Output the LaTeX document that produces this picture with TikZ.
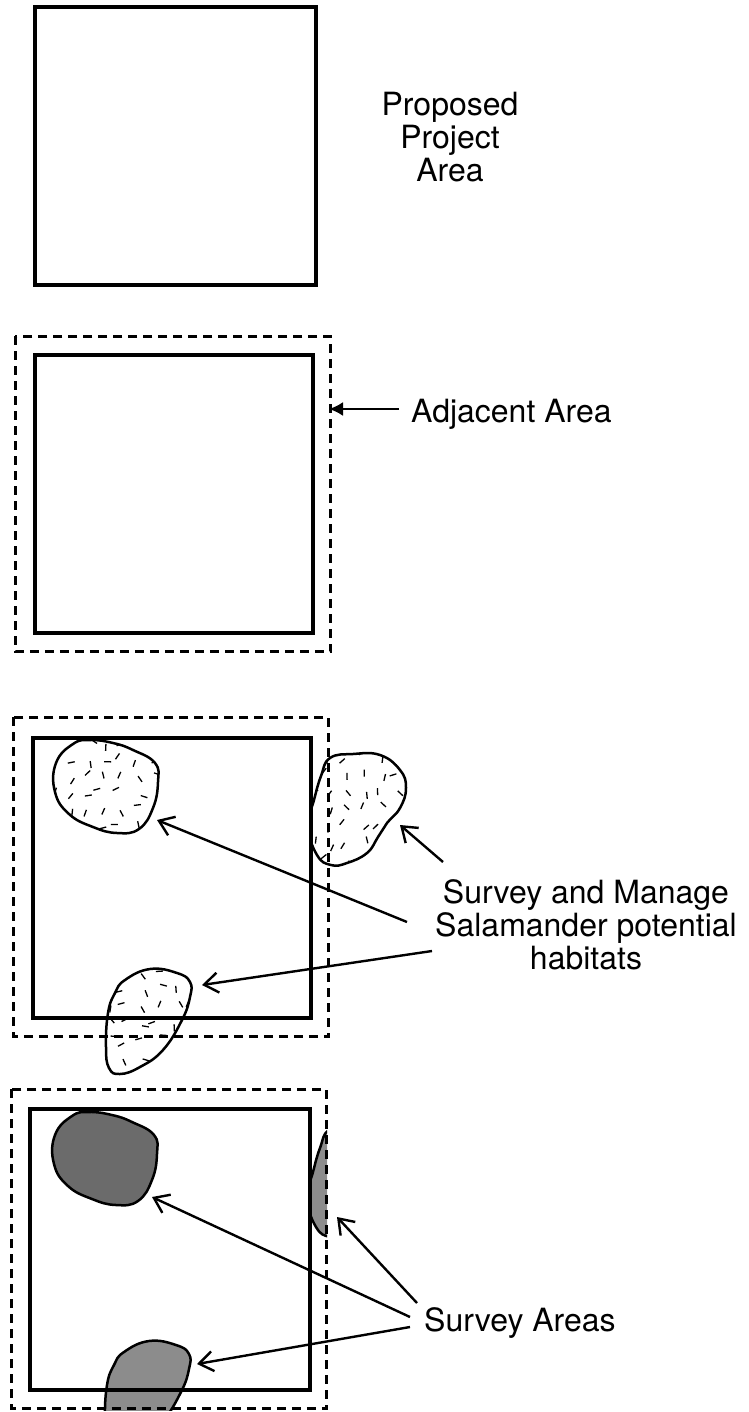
\documentclass[tikz,border=0pt]{standalone}
\usepackage{fontspec}
\setmainfont{TeX Gyre Heros}
\usetikzlibrary{arrows.meta,positioning}

% habitat outlines, measured from the top left corner of a project square
\newcommand{\blobNW}{plot[smooth cycle,tension=0.75] coordinates {(59,4) (82,7) (102,14) (124,27) (127,46) (122,72) (108,93) (86,97) (62,91) (38,78) (24,56) (25,27) (42,8)}}
\newcommand{\blobE}{plot[smooth cycle,tension=0.75] coordinates {(299,22) (322,18) (349,19) (369,34) (375,52) (369,72) (356,87) (347,101) (336,117) (316,127) (300,129) (286,119) (277,90) (283,64) (290,40)}}
\newcommand{\blobS}{plot[smooth cycle,tension=0.75] coordinates {(94,244) (119,233) (146,237) (159,246) (159,261) (151,284) (132,314) (109,331) (89,338) (78,332) (75,311) (77,277) (84,257)}}

% short random strokes on a loose grid
\newcommand{\speckles}[4]{%
  \foreach \i in {0,...,#2}{\foreach \j in {0,...,#4}{
    \pgfmathsetmacro{\sx}{#1+17*\i+9*rnd}
    \pgfmathsetmacro{\sy}{#3+17*\j+9*rnd}
    \pgfmathsetmacro{\sa}{180*rnd}
    \draw[speck] (\sx,\sy) -- ++(\sa:7);}}}

\begin{document}
\begin{tikzpicture}[x=1pt, y=-1pt, font=\fontsize{32}{33}\selectfont]
\tikzstyle{project}=[line width=3.8pt]
\tikzstyle{adjacent}=[line width=2.8pt, dash pattern=on 9pt off 6pt]
\tikzstyle{habitat}=[draw, line width=2.5pt]
\tikzstyle{speck}=[line width=1.3pt]
\tikzstyle{pointer}=[-{Straight Barb[length=14pt,width=20pt]}, line width=2.4pt]
\tikzstyle{areatext}=[align=center, inner sep=0pt]
\pgfmathsetseed{3}
\useasboundingbox (0,0) rectangle (748,1412);

% 1: project area
\draw[project] (34.75,6.75) rectangle (316.25,285.25);
\node[areatext, anchor=north] (proposed) at (450,92) {Proposed\\Project\\Area};

% 2: with adjacent area
\draw[project] (34.75,354.75) rectangle (313.25,633.25);
\draw[adjacent] (15.25,336.25) rectangle (330.75,651.75);
\coordinate (adjHead) at (329,409);
\coordinate (adjTail) at (399,409);
\node[areatext, anchor=base west] (adjacent) at (411,422) {Adjacent Area};
\draw[-{Latex[length=14pt,width=14pt]}, line width=2.2pt] (adjTail) -- (adjHead);

% 3: potential habitats
\begin{scope}[shift={(31,736)}]
  \begin{scope}
    \clip \blobNW;
    \speckles{18}{7}{0}{6}
  \end{scope}
  \draw[habitat] \blobNW;
  \begin{scope}
    \clip \blobS;
    \speckles{72}{5}{230}{6}
  \end{scope}
  \draw[habitat] \blobS;
  \begin{scope}
    \clip (280.25,0) rectangle (420,160);
    \begin{scope}
      \clip \blobE;
      \speckles{278}{6}{15}{7}
    \end{scope}
    \draw[habitat] \blobE;
  \end{scope}
\end{scope}
\draw[project] (32.75,737.75) rectangle (311.25,1018.25);
\draw[adjacent] (13.25,717.25) rectangle (328.75,1036.75);
\node[areatext, anchor=north] (habitats) at (586,879) {Survey and Manage\\Salamander potential\\habitats};
\coordinate (hNW) at (157,820);
\coordinate (hE) at (400,825);
\coordinate (hS) at (202,985);
\coordinate (tNW) at (407,922);
\coordinate (tE) at (443,862);
\coordinate (tS) at (432,951);
\path[pointer] (tNW) edge (hNW) (tE) edge (hE) (tS) edge (hS);

% 4: survey areas
\begin{scope}[shift={(30,1108)}]
  \draw[habitat, fill=black!58] \blobNW;
  \begin{scope}
    \clip (-20,0) rectangle (300,302);
    \draw[habitat, fill=black!45] \blobS;
  \end{scope}
  \begin{scope}
    \clip (280.25,-20) rectangle (297,300);
    \draw[habitat, fill=black!45] \blobE;
  \end{scope}
\end{scope}
\draw[project] (29.75,1108.75) rectangle (310.25,1390.25);
\draw[adjacent] (11.25,1089.25) rectangle (326.75,1408.75);
\node[areatext, anchor=base west] (survey) at (424,1331) {Survey Areas};
\coordinate (sNW) at (152,1197);
\coordinate (sE) at (337,1217);
\coordinate (sS) at (197,1364);
\coordinate (uNW) at (410,1317);
\coordinate (uE) at (417,1303);
\coordinate (uS) at (410,1327);
\path[pointer] (uNW) edge (sNW) (uE) edge (sE) (uS) edge (sS);
\end{tikzpicture}
\end{document}
